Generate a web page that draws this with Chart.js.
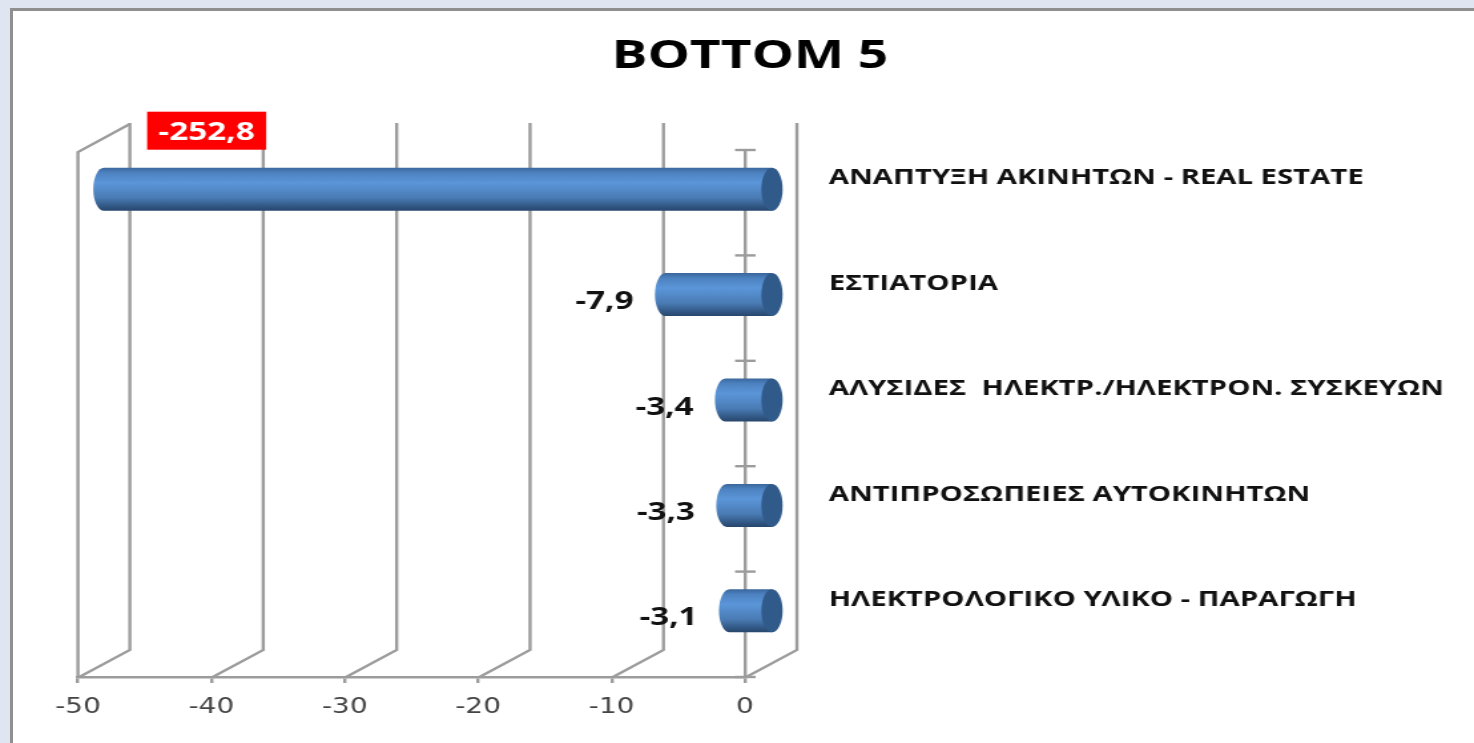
<!DOCTYPE html>
<html lang="el">
<head>
<meta charset="utf-8">
<title>BOTTOM 5</title>
<style>
  html, body { margin: 0; height: 100%; overflow: hidden; background: #dfe6f1; }
  #sheet { position: absolute; left: 10px; top: 8px; right: 0; bottom: 0; background: #fff; border-left: 3px solid #8f8f8f; border-top: 3px solid #8f8f8f; }
  /* the original picture is a chart stretched sideways, so stretch the canvas too */
  #chart { position: absolute; left: 0; top: 0; width: 1474px !important; height: 743px !important; filter: blur(0.5px); }
</style>
</head>
<body>
<div id="sheet"></div>
<canvas id="chart" width="1108" height="743"></canvas>
<script src="https://cdn.jsdelivr.net/npm/chart.js@4"></script>
<script>
const categories = [
  "ΑΝΑΠΤΥΞΗ ΑΚΙΝΗΤΩΝ - REAL ESTATE",
  "ΕΣΤΙΑΤΟΡΙΑ",
  "ΑΛΥΣΙΔΕΣ  ΗΛΕΚΤΡ./ΗΛΕΚΤΡΟΝ. ΣΥΣΚΕΥΩΝ",
  "ΑΝΤΙΠΡΟΣΩΠΕΙΕΣ ΑΥΤΟΚΙΝΗΤΩΝ",
  "ΗΛΕΚΤΡΟΛΟΓΙΚΟ ΥΛΙΚΟ - ΠΑΡΑΓΩΓΗ"
];
const values = [-252.8, -7.9, -3.4, -3.3, -3.1];
const xTicks = [-50, -40, -30, -20, -10, 0];

const wallColor = "#9c9c9c";
const depthX = 39, depthY = 27; // the fake 3D box; bars sit half way back
const capRx = 8;

const label = (v) => v.toFixed(1).replace(".", ",");

function line(ctx, pts) {
  ctx.beginPath();
  pts.forEach(([x, y], i) => (i ? ctx.lineTo(x, y) : ctx.moveTo(x, y)));
  ctx.stroke();
}

const box3d = {
  id: "box3d",
  beforeDatasetsDraw(chart) {
    const { ctx, chartArea: a, scales: { x } } = chart;
    ctx.save();
    ctx.strokeStyle = wallColor;
    ctx.lineWidth = 2.4;
    line(ctx, [[a.left, a.bottom], [a.left, a.top + 2], [a.left + depthX, a.top - depthY + 1]]);
    xTicks.forEach((t) => {
      const px = x.getPixelForValue(t);
      line(ctx, [[px + 1, a.bottom], [px + depthX, a.bottom - depthY], [px + depthX, a.top - depthY]]);
    });
    ctx.restore();
  },
  afterDatasetsDraw(chart) {
    const { ctx, chartArea: a, scales: { x } } = chart;
    const meta = chart.getDatasetMeta(0);
    ctx.save();
    meta.data.forEach((bar) => {
      const h = bar.height;
      const cy = bar.y - depthY / 2;
      const right = x.getPixelForValue(0) + depthX / 2 + 0.8;
      const left = Math.max(bar.x, a.left) + depthX / 2;
      const g = ctx.createLinearGradient(0, cy - h / 2, 0, cy + h / 2);
      g.addColorStop(0, "#3a679c");
      g.addColorStop(0.12, "#4d82c0");
      g.addColorStop(0.35, "#5b96d9");
      g.addColorStop(0.7, "#4a7bb4");
      g.addColorStop(0.9, "#315783");
      g.addColorStop(1, "#27466d");
      ctx.fillStyle = g;
      ctx.beginPath();
      ctx.ellipse(left, cy, capRx, h / 2, 0, Math.PI / 2, Math.PI * 1.5);
      ctx.lineTo(right, cy - h / 2);
      ctx.lineTo(right, cy + h / 2);
      ctx.closePath();
      ctx.fill();
      ctx.fillStyle = "#305a8a";
      ctx.beginPath();
      ctx.ellipse(right, cy, capRx, h / 2, 0, 0, Math.PI * 2);
      ctx.fill();
    });
    // category axis ticks cross the axis line
    ctx.strokeStyle = wallColor;
    ctx.lineWidth = 2.4;
    const band = (a.bottom - a.top) / categories.length;
    categories.concat("").forEach((_, i) => {
      const py = a.top + band * i;
      line(ctx, [[a.right - 7.5, py], [a.right + 8, py]]);
    });
    ctx.restore();
  },
  afterDraw(chart) {
    const { ctx, chartArea: a, scales: { x, y } } = chart;
    const meta = chart.getDatasetMeta(0);
    ctx.save();
    ctx.textBaseline = "middle";
    // category names sit up and to the right of the box
    ctx.font = "bold 22px 'Open Sans'";
    ctx.fillStyle = "#111";
    ctx.textAlign = "left";
    categories.forEach((c, i) => ctx.fillText(c, 623, y.getPixelForValue(i) - 24.5));
    // value labels
    ctx.font = "bold 25px 'Open Sans'";
    values.forEach((v, i) => {
      const bar = meta.data[i];
      if (v < x.min) {
        const bx = a.left + 52, by = bar.y - 91;
        ctx.fillStyle = "#ff0000";
        ctx.fillRect(bx, by, 89.5, 38);
        ctx.fillStyle = "#fff";
        ctx.textAlign = "center";
        ctx.fillText(label(v), bx + 44.7, by + 21);
      } else {
        ctx.fillStyle = "#111";
        ctx.textAlign = "right";
        ctx.fillText(label(v), bar.x + depthX / 2 - capRx - 16, bar.y - 6);
      }
    });
    ctx.restore();
  }
};

new Chart(document.getElementById("chart"), {
  type: "bar",
  plugins: [box3d],
  data: {
    labels: categories,
    datasets: [{
      data: values,
      backgroundColor: "transparent",
      categoryPercentage: 1,
      barPercentage: 0.408
    }]
  },
  options: {
    indexAxis: "y",
    responsive: false,
    animation: false,
    layout: { padding: { left: 19.6 } },
    plugins: {
      legend: { display: false },
      tooltip: { enabled: false },
      title: {
        display: true,
        text: "BOTTOM 5",
        color: "#000",
        font: { family: "'Open Sans'", size: 40, weight: "bold", lineHeight: 1.2 },
        padding: { top: 33, bottom: 69 }
      }
    },
    scales: {
      x: {
        min: -50,
        max: 0,
        afterBuildTicks: (s) => { s.ticks = xTicks.map((value) => ({ value })); },
        afterFit: (s) => { s.height = 66; },
        border: { color: wallColor, width: 2.5 },
        grid: { drawOnChartArea: false, color: wallColor, lineWidth: 2.4, tickLength: 6 },
        ticks: { color: "#444", padding: 12, maxRotation: 0, font: { family: "'DejaVu Sans'", size: 21 } }
      },
      y: {
        position: "right",
        z: 1,
        afterFit: (s) => { s.width = 548; },
        border: { color: wallColor, width: 2.4 },
        grid: { display: false },
        ticks: { display: false }
      },
      spacer: {
        type: "linear",
        position: "left",
        afterFit: (s) => { s.width = 39; },
        border: { display: false },
        grid: { display: false },
        ticks: { display: false }
      }
    }
  }
});
</script>
</body>
</html>
